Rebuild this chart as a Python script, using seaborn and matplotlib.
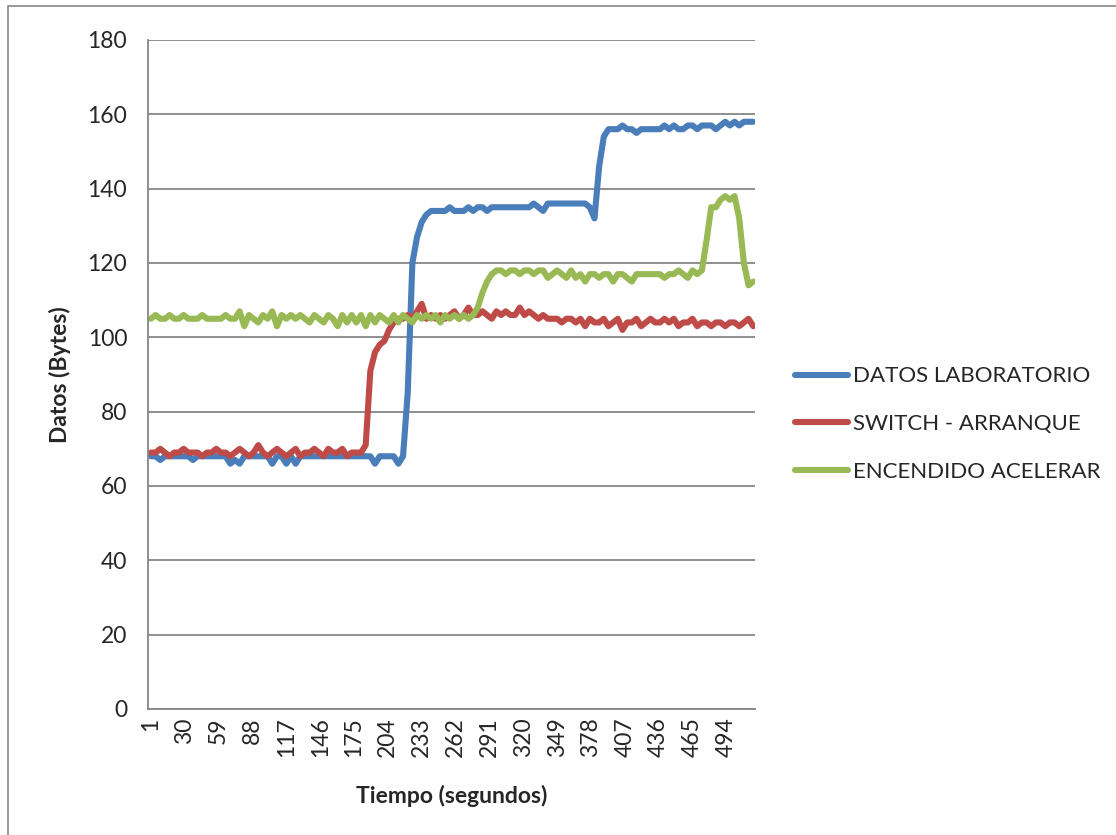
import pandas as pd
import seaborn as sns
import matplotlib.pyplot as plt
from matplotlib.patches import Rectangle

# tiempo en segundos (un punto cada 4 s)
segundos = list(range(1, 518, 4))

datos_laboratorio = [
    68, 68, 67, 68, 68, 68, 68, 68, 68, 67,
    68, 68, 68, 68, 68, 68, 68, 66, 67, 66,
    68, 68, 68, 68, 68, 68, 66, 68, 68, 66,
    68, 66, 68, 68, 68, 68, 68, 68, 68, 68,
    68, 68, 68, 68, 68, 68, 68, 68, 66, 68,
    68, 68, 68, 66, 68, 85, 120, 127, 131, 133,
    134, 134, 134, 134, 135, 134, 134, 134, 135, 134,
    135, 135, 134, 135, 135, 135, 135, 135, 135, 135,
    135, 135, 136, 135, 134, 136, 136, 136, 136, 136,
    136, 136, 136, 136, 135, 132, 146, 154, 156, 156,
    156, 157, 156, 156, 155, 156, 156, 156, 156, 156,
    157, 156, 157, 156, 156, 157, 157, 156, 157, 157,
    157, 156, 157, 158, 157, 158, 157, 158, 158, 158,
]

switch_arranque = [
    69, 69, 70, 69, 68, 69, 69, 70, 69, 69,
    69, 68, 69, 69, 70, 69, 69, 68, 69, 70,
    69, 68, 69, 71, 69, 68, 69, 70, 69, 68,
    69, 70, 68, 69, 69, 70, 69, 68, 70, 69,
    69, 70, 68, 69, 69, 69, 71, 91, 96, 98,
    99, 102, 104, 105, 105, 106, 105, 107, 109, 105,
    106, 105, 106, 105, 106, 107, 105, 106, 108, 106,
    106, 107, 106, 105, 107, 106, 107, 106, 106, 108,
    106, 107, 106, 105, 106, 105, 105, 105, 104, 105,
    105, 104, 105, 103, 105, 104, 104, 105, 103, 104,
    105, 102, 104, 104, 105, 103, 104, 105, 104, 104,
    105, 104, 105, 103, 104, 104, 105, 103, 104, 104,
    103, 104, 104, 103, 104, 104, 103, 104, 105, 103,
]

encendido_acelerar = [
    105, 106, 105, 105, 106, 105, 105, 106, 105, 105,
    105, 106, 105, 105, 105, 105, 106, 105, 105, 107,
    103, 106, 105, 104, 106, 105, 107, 103, 106, 105,
    106, 105, 106, 105, 104, 106, 105, 104, 106, 105,
    103, 106, 104, 106, 104, 106, 103, 106, 104, 106,
    105, 104, 106, 104, 106, 105, 104, 106, 105, 106,
    105, 106, 104, 106, 105, 106, 105, 106, 105, 106,
    108, 112, 115, 117, 118, 118, 117, 118, 118, 117,
    118, 118, 117, 118, 118, 116, 117, 118, 117, 116,
    118, 116, 117, 115, 117, 117, 116, 117, 117, 115,
    117, 117, 116, 115, 117, 117, 117, 117, 117, 117,
    116, 117, 117, 118, 117, 116, 118, 117, 118, 126,
    135, 135, 137, 138, 137, 138, 132, 120, 114, 115,
]

series = ["DATOS LABORATORIO", "SWITCH - ARRANQUE", "ENCENDIDO ACELERAR"]
colores = ["#4A7EBB", "#BE4B48", "#98B954"]
x_ticks = list(range(1, 518, 29))

df = pd.concat([
    pd.DataFrame({"t": segundos, "valor": datos_laboratorio, "serie": series[0]}),
    pd.DataFrame({"t": segundos, "valor": switch_arranque, "serie": series[1]}),
    pd.DataFrame({"t": segundos, "valor": encendido_acelerar, "serie": series[2]}),
])

sns.set_style("white")
plt.rcParams['font.family'] = ['Lato', 'DejaVu Sans']

fig = plt.figure(figsize=(11.16, 8.35), dpi=100)
ax = fig.add_axes([0.1326, 0.1509, 0.5439, 0.8012])

sns.lineplot(data=df, x="t", y="valor", hue="serie", hue_order=series,
             palette=dict(zip(series, colores)), linewidth=4.4, ax=ax,
             estimator=None, legend=False,
             solid_capstyle="round", solid_joinstyle="round")

ax.set_xlim(-1.5, 518.5)
ax.set_ylim(0, 180)
ax.set_yticks(range(0, 181, 20))
ax.set_xticks(x_ticks)
ax.set_xticklabels([str(v) for v in x_ticks], rotation=90)
ax.grid(axis="y", color="#868686", linewidth=1.3)
ax.set_axisbelow(True)
for s in ["top", "right"]:
    ax.spines[s].set_visible(False)
for s in ["left", "bottom"]:
    ax.spines[s].set_color("#868686")
    ax.spines[s].set_linewidth(1.3)
ax.tick_params(axis="y", length=6, color="#868686", width=1.3, labelsize=16.5, pad=9)
ax.tick_params(axis="x", length=0, labelsize=16.5, pad=6)

ax.set_xlabel("Tiempo (segundos)", fontsize=16.5, fontweight="bold", labelpad=20)
ax.set_ylabel("Datos (Bytes)", fontsize=16.5, fontweight="bold", labelpad=12)

handles = ax.get_lines()[:3]
fig.legend(handles, series, loc="center left", bbox_to_anchor=(0.694, 0.492),
           frameon=False, fontsize=16, handlelength=2.4, handletextpad=0.25,
           labelspacing=1.25)

fig.patches.append(Rectangle((8 / 1116, -0.5), 2, 1.5 - 6 / 835, transform=fig.transFigure,
                             fill=False, edgecolor="#868686", linewidth=1.2))

fig.savefig("out.png", dpi=100)
